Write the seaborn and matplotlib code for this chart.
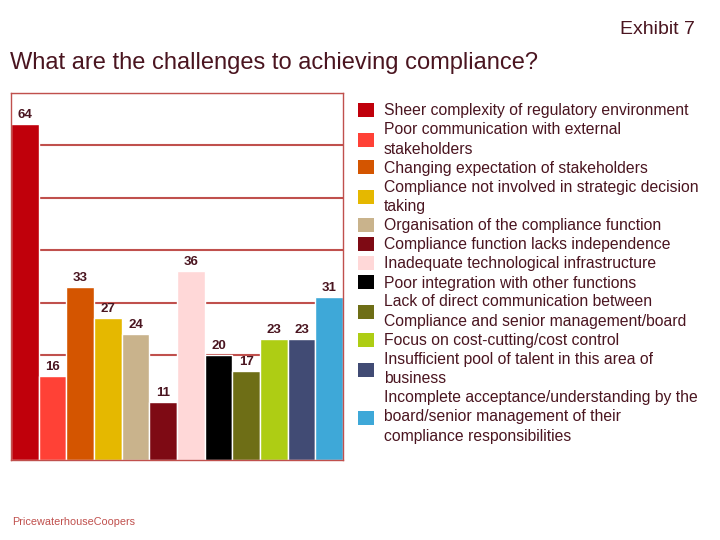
import matplotlib
matplotlib.use("Agg")
import matplotlib.pyplot as plt
import seaborn as sns
from matplotlib.patches import Patch

challenges = [
    "Sheer complexity of regulatory environment",
    "Poor communication with external\nstakeholders",
    "Changing expectation of stakeholders",
    "Compliance not involved in strategic decision\ntaking",
    "Organisation of the compliance function",
    "Compliance function lacks independence",
    "Inadequate technological infrastructure",
    "Poor integration with other functions",
    "Lack of direct communication between\nCompliance and senior management/board",
    "Focus on cost-cutting/cost control",
    "Insufficient pool of talent in this area of\nbusiness",
    "Incomplete acceptance/understanding by the\nboard/senior management of their\ncompliance responsibilities",
]
scores = [64, 16, 33, 27, 24, 11, 36, 20, 17, 23, 23, 31]
colors = ["#C0000B", "#FF4136", "#D45500", "#E5B800", "#C9B38C", "#7E0A14",
          "#FFD8D8", "#000000", "#6E6E16", "#AECD14", "#414B74", "#3EA8D8"]

text_col = "#4A1520"
line_red = "#C0504D"

sns.set_style("white")
plt.rcParams["font.family"] = ["Liberation Sans", "DejaVu Sans"]

fig = plt.figure(figsize=(7.2, 5.4), dpi=100)
ax = fig.add_axes([11 / 720, 1 - 460 / 540, 332 / 720, 367 / 540])

ax.yaxis.grid(True, color=line_red, linewidth=1.5)
ax.set_axisbelow(True)
sns.barplot(x=list(range(len(scores))), y=scores, hue=list(range(len(scores))),
            palette=colors, width=1.0, saturation=1, legend=False, ax=ax)

ax.set_xlim(-0.5, len(scores) - 0.5)
ax.set_ylim(0, 70)
ax.set_yticks(range(0, 71, 10))
ax.set_xticks([])
ax.set_yticklabels([])
ax.tick_params(left=False, bottom=False)
ax.set_xlabel("")
ax.set_ylabel("")
for s in ax.spines.values():
    s.set_color(line_red)
    s.set_linewidth(1)

for i, v in enumerate(scores):
    ax.annotate(str(v), (i, v), xytext=(0, 6.5), textcoords="offset points",
                ha="center", va="center", fontsize=9.5, fontweight="bold",
                color=text_col)

handles = [Patch(facecolor=c, edgecolor="none") for c in colors]
leg = fig.legend(handles, challenges, loc="upper left",
                 bbox_to_anchor=(358 / 720, 1 - 103 / 540), frameon=False,
                 fontsize=11.3, labelcolor=text_col, handlelength=1.05,
                 handleheight=1.0, handletextpad=0.6, labelspacing=0.24,
                 borderpad=0, borderaxespad=0)
for t in leg.get_texts():
    t.set_linespacing(1.37)

fig.text(695 / 720, 1 - 30 / 540, "Exhibit 7", ha="right", va="center",
         fontsize=14, color=text_col)
fig.text(10 / 720, 1 - 63 / 540, "What are the challenges to achieving compliance?",
         ha="left", va="center", fontsize=17, color=text_col)
fig.text(12 / 720, 1 - 522 / 540, "PricewaterhouseCoopers", ha="left",
         va="center", fontsize=7.8, color=line_red)

fig.savefig("out.png", dpi=100)
